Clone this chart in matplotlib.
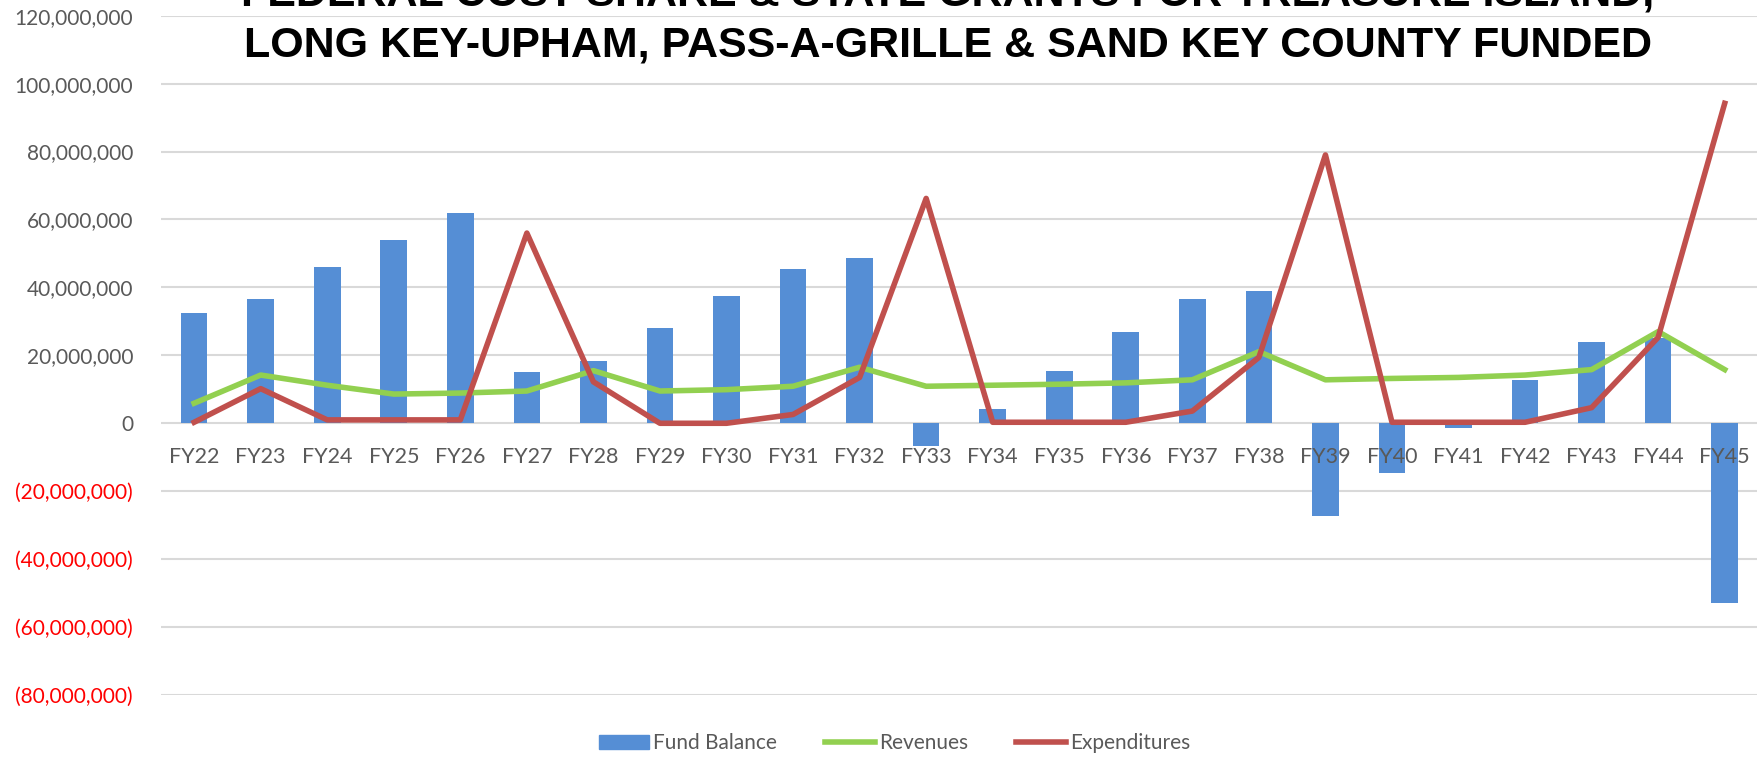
import matplotlib.pyplot as plt
import numpy as np
from matplotlib.patches import Patch
from matplotlib.lines import Line2D

years = ['FY22', 'FY23', 'FY24', 'FY25', 'FY26', 'FY27', 'FY28', 'FY29', 'FY30', 'FY31', 'FY32', 'FY33',
         'FY34', 'FY35', 'FY36', 'FY37', 'FY38', 'FY39', 'FY40', 'FY41', 'FY42', 'FY43', 'FY44', 'FY45']

# values in millions
fund_balance = [32.6, 36.5, 46.1, 54.0, 61.9, 15.1, 18.4, 28.0, 37.5, 45.4, 48.7, -6.6,
                4.3, 15.5, 27.0, 36.5, 38.8, -27.3, -14.5, -1.3, 12.8, 24.0, 25.0, -53.0]
revenues = [5.9, 14.2, 11.2, 8.6, 8.9, 9.5, 15.5, 9.5, 9.9, 10.9, 16.5, 10.9,
            11.2, 11.5, 11.9, 12.8, 21.1, 12.8, 13.2, 13.5, 14.2, 15.8, 27.0, 15.8]
expenditures = [0.3, 10.2, 1.0, 1.0, 1.0, 56.0, 12.2, 0.0, 0.0, 2.6, 13.5, 66.2,
                0.3, 0.3, 0.3, 3.6, 19.4, 79.0, 0.3, 0.3, 0.3, 4.6, 25.3, 94.2]

fund_balance = np.array(fund_balance) * 1e6
revenues = np.array(revenues) * 1e6
expenditures = np.array(expenditures) * 1e6

plt.rcParams['font.family'] = ['Lato', 'DejaVu Sans']

fig = plt.figure(figsize=(17.58, 7.61), dpi=100)
ax = fig.add_axes([0.0915, 0.0867, 0.9085, 0.8927])

x = np.arange(len(years))
ax.bar(x, fund_balance, width=0.4, color='#558ED5', zorder=2)
ax.plot(x, revenues, color='#92D050', linewidth=4, zorder=3)
ax.plot(x, expenditures, color='#C0504D', linewidth=4, zorder=4)

ax.set_xlim(-0.5, len(years) - 0.5)
ax.set_ylim(-80e6, 120e6)
yt = np.arange(-80e6, 120e6 + 1, 20e6)
ylabels = []
for v in yt:
    if v < 0:
        ylabels.append('({:,.0f})'.format(-v))
    else:
        ylabels.append('{:,.0f}'.format(v))
ax.set_yticks(yt, ylabels)
for lbl, v in zip(ax.get_yticklabels(), yt):
    lbl.set_color('#FF0000' if v < 0 else '#595959')
ax.tick_params(axis='y', length=0, pad=20, labelsize=15)
ax.grid(axis='y', color='#D9D9D9', linewidth=1.5, zorder=0)

# category labels sit just below the zero line
ax.set_xticks([])
for i, name in enumerate(years):
    ax.text(i, -9.8e6, name, ha='center', va='center', fontsize=15.5, color='#595959')

for s in ax.spines.values():
    s.set_visible(False)

fig.text(0.539, 0.926,
         'FEDERAL COST SHARE & STATE GRANTS FOR TREASURE ISLAND,\n'
         'LONG KEY-UPHAM, PASS-A-GRILLE & SAND KEY COUNTY FUNDED',
         ha='center', va='baseline', fontsize=31, fontweight='bold',
         family=['Liberation Sans Narrow', 'Liberation Sans'], linespacing=1.36)

handles = [Patch(color='#558ED5'),
           Line2D([], [], color='#92D050', linewidth=4),
           Line2D([], [], color='#C0504D', linewidth=4)]
fig.legend(handles, ['Fund Balance', 'Revenues', 'Expenditures'], loc='center',
           bbox_to_anchor=(0.509, 0.023), ncol=3, frameon=False, fontsize=15,
           labelcolor='#595959', handlelength=2.4, handletextpad=0.2, columnspacing=2.3)

fig.savefig('out.png', dpi=100)
